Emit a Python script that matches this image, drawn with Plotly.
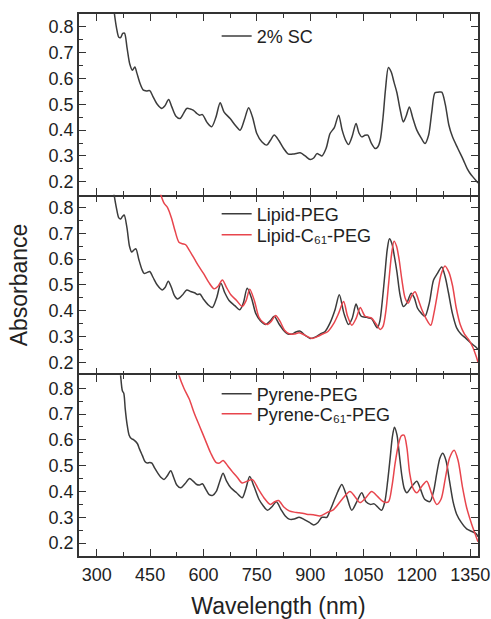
import plotly.graph_objects as go
from plotly.subplots import make_subplots

# ---- data (wavelength nm, absorbance) ----
sc_wl = [345, 355, 362, 367, 373, 378, 385, 393, 400, 407, 413, 422, 431, 440, 449, 458, 470, 483, 492, 502, 511, 522, 534, 544, 553, 563, 572, 581, 589, 597, 610, 623, 635, 647, 658, 675, 690, 703, 715, 727, 738, 750, 764, 778, 788, 799, 812, 825, 839, 855, 872, 886, 900, 910, 919, 926, 933, 945, 956, 968, 980, 990, 1000, 1008, 1018, 1029, 1037, 1045, 1054, 1062, 1072, 1083, 1090, 1097, 1105, 1112, 1120, 1128, 1136, 1144, 1153, 1162, 1170, 1179, 1188, 1200, 1212, 1223, 1233, 1242, 1251, 1260, 1270, 1280, 1290, 1300, 1315, 1331, 1342, 1350, 1360, 1372]
sc_abs = [0.90, 0.80, 0.76, 0.759, 0.775, 0.776, 0.72, 0.655, 0.632, 0.645, 0.62, 0.58, 0.555, 0.552, 0.553, 0.53, 0.50, 0.484, 0.495, 0.519, 0.49, 0.455, 0.445, 0.465, 0.484, 0.482, 0.477, 0.465, 0.458, 0.46, 0.43, 0.413, 0.45, 0.506, 0.47, 0.445, 0.418, 0.40, 0.44, 0.487, 0.45, 0.387, 0.355, 0.342, 0.36, 0.381, 0.36, 0.33, 0.307, 0.308, 0.312, 0.30, 0.286, 0.292, 0.309, 0.305, 0.30, 0.33, 0.387, 0.41, 0.458, 0.40, 0.36, 0.344, 0.375, 0.426, 0.39, 0.374, 0.38, 0.381, 0.35, 0.329, 0.335, 0.361, 0.45, 0.56, 0.643, 0.625, 0.585, 0.545, 0.48, 0.432, 0.455, 0.49, 0.45, 0.40, 0.37, 0.348, 0.38, 0.47, 0.545, 0.547, 0.547, 0.50, 0.42, 0.375, 0.33, 0.284, 0.25, 0.232, 0.215, 0.195]

lp_wl = [345, 355, 362, 367, 372, 377, 385, 392, 398, 404, 410, 418, 427, 433, 441, 449, 458, 470, 484, 492, 501, 510, 518, 527, 540, 553, 564, 575, 583, 590, 600, 612, 625, 637, 649, 660, 672, 688, 702, 712, 723, 735, 747, 760, 775, 787, 799, 812, 825, 836, 850, 860, 872, 886, 900, 914, 928, 942, 956, 970, 982, 995, 1008, 1018, 1029, 1036, 1043, 1051, 1059, 1066, 1073, 1081, 1089, 1096, 1103, 1110, 1117, 1123, 1130, 1137, 1144, 1153, 1162, 1172, 1184, 1193, 1202, 1213, 1223, 1235, 1247, 1258, 1270, 1280, 1289, 1300, 1312, 1324, 1336, 1352, 1368, 1372]
lp_abs = [0.88, 0.80, 0.76, 0.756, 0.765, 0.771, 0.72, 0.65, 0.628, 0.635, 0.64, 0.60, 0.56, 0.545, 0.548, 0.552, 0.53, 0.50, 0.481, 0.49, 0.515, 0.49, 0.46, 0.446, 0.46, 0.481, 0.475, 0.47, 0.463, 0.465, 0.445, 0.425, 0.413, 0.45, 0.507, 0.47, 0.44, 0.42, 0.404, 0.43, 0.487, 0.45, 0.39, 0.362, 0.347, 0.36, 0.379, 0.35, 0.325, 0.311, 0.31, 0.318, 0.321, 0.305, 0.293, 0.298, 0.31, 0.32, 0.353, 0.404, 0.462, 0.39, 0.347, 0.37, 0.426, 0.40, 0.38, 0.376, 0.375, 0.372, 0.37, 0.35, 0.334, 0.36, 0.44, 0.54, 0.64, 0.679, 0.66, 0.61, 0.551, 0.46, 0.417, 0.43, 0.468, 0.45, 0.41, 0.39, 0.379, 0.43, 0.519, 0.545, 0.57, 0.53, 0.47, 0.39, 0.334, 0.31, 0.296, 0.275, 0.257, 0.25]

lc_wl = [470, 480, 490, 499, 510, 520, 531, 541, 550, 560, 575, 588, 600, 615, 630, 641, 653, 665, 677, 693, 709, 720, 730, 743, 756, 768, 780, 791, 803, 815, 828, 841, 855, 869, 886, 905, 920, 935, 950, 966, 980, 994, 1005, 1017, 1029, 1041, 1048, 1054, 1064, 1073, 1085, 1097, 1105, 1113, 1121, 1129, 1136, 1143, 1150, 1158, 1167, 1176, 1186, 1195, 1205, 1214, 1226, 1239, 1248, 1256, 1268, 1279, 1290, 1300, 1311, 1322, 1334, 1345, 1357, 1368, 1372]
lc_abs = [0.90, 0.85, 0.815, 0.80, 0.76, 0.71, 0.666, 0.66, 0.656, 0.635, 0.60, 0.57, 0.545, 0.51, 0.485, 0.495, 0.519, 0.49, 0.462, 0.44, 0.417, 0.44, 0.484, 0.44, 0.375, 0.355, 0.347, 0.36, 0.382, 0.36, 0.325, 0.311, 0.31, 0.315, 0.305, 0.293, 0.30, 0.31, 0.32, 0.35, 0.39, 0.436, 0.38, 0.344, 0.37, 0.413, 0.395, 0.38, 0.375, 0.372, 0.35, 0.328, 0.34, 0.40, 0.51, 0.62, 0.67, 0.65, 0.60, 0.52, 0.45, 0.43, 0.46, 0.474, 0.44, 0.405, 0.37, 0.344, 0.39, 0.45, 0.54, 0.574, 0.55, 0.50, 0.41, 0.347, 0.31, 0.29, 0.26, 0.219, 0.20]

py_wl = [362, 367, 372, 376, 380, 385, 391, 397, 404, 414, 420, 428, 436, 442, 449, 455, 463, 472, 480, 489, 498, 508, 516, 525, 536, 548, 561, 571, 581, 589, 597, 606, 616, 626, 636, 646, 655, 665, 677, 693, 709, 719, 730, 742, 756, 768, 780, 792, 805, 818, 830, 841, 855, 869, 885, 898, 910, 922, 933, 947, 957, 966, 978, 989, 1003, 1017, 1031, 1045, 1057, 1069, 1080, 1090, 1101, 1110, 1118, 1125, 1131, 1137, 1144, 1151, 1158, 1165, 1172, 1186, 1200, 1210, 1222, 1237, 1247, 1256, 1265, 1273, 1282, 1292, 1302, 1312, 1325, 1340, 1355, 1367, 1372]
py_abs = [0.95, 0.85, 0.79, 0.78, 0.72, 0.662, 0.618, 0.605, 0.60, 0.586, 0.565, 0.54, 0.515, 0.51, 0.512, 0.51, 0.49, 0.47, 0.455, 0.446, 0.46, 0.48, 0.455, 0.425, 0.414, 0.43, 0.45, 0.44, 0.427, 0.425, 0.43, 0.41, 0.388, 0.385, 0.40, 0.44, 0.471, 0.44, 0.414, 0.395, 0.376, 0.41, 0.458, 0.42, 0.37, 0.345, 0.327, 0.34, 0.36, 0.33, 0.305, 0.293, 0.293, 0.30, 0.29, 0.28, 0.27, 0.28, 0.30, 0.30, 0.33, 0.36, 0.40, 0.427, 0.38, 0.327, 0.36, 0.395, 0.36, 0.35, 0.352, 0.34, 0.327, 0.36, 0.44, 0.53, 0.61, 0.649, 0.62, 0.54, 0.46, 0.41, 0.395, 0.42, 0.44, 0.41, 0.37, 0.361, 0.40, 0.47, 0.53, 0.548, 0.52, 0.44, 0.36, 0.312, 0.28, 0.255, 0.245, 0.236, 0.225]

pc_wl = [522, 531, 545, 560, 575, 590, 605, 620, 635, 645, 655, 668, 681, 695, 709, 723, 738, 754, 770, 788, 800, 811, 826, 841, 855, 869, 890, 909, 928, 947, 966, 990, 1012, 1026, 1040, 1056, 1073, 1090, 1106, 1120, 1130, 1139, 1148, 1156, 1164, 1172, 1180, 1190, 1200, 1214, 1228, 1242, 1256, 1268, 1280, 1292, 1305, 1316, 1328, 1340, 1354, 1368, 1372]
pc_abs = [0.90, 0.85, 0.80, 0.758, 0.70, 0.65, 0.60, 0.55, 0.513, 0.51, 0.52, 0.50, 0.477, 0.455, 0.433, 0.44, 0.446, 0.41, 0.376, 0.35, 0.36, 0.365, 0.34, 0.325, 0.32, 0.318, 0.312, 0.31, 0.305, 0.318, 0.33, 0.37, 0.40, 0.38, 0.357, 0.375, 0.40, 0.38, 0.36, 0.36, 0.42, 0.51, 0.58, 0.615, 0.618, 0.57, 0.47, 0.41, 0.395, 0.42, 0.44, 0.39, 0.35, 0.37, 0.45, 0.53, 0.56, 0.52, 0.42, 0.338, 0.274, 0.22, 0.205]

x_tick0, x_dtick, x_minor = 300, 150, 75
y_tick0, y_dtick, y_minor = 0.2, 0.1, 0.05

BLACK = "#3c3c3c"
RED = "#e8454d"
FONT = "Liberation Sans, Arial, sans-serif"

fig = make_subplots(rows=3, cols=1, shared_xaxes=True, vertical_spacing=0)

series = [
    (sc_wl, sc_abs, "2% SC", BLACK, 1, "legend"),
    (lp_wl, lp_abs, "Lipid-PEG", BLACK, 2, "legend2"),
    (lc_wl, lc_abs, "Lipid-C₆₁-PEG", RED, 2, "legend3"),
    (py_wl, py_abs, "Pyrene-PEG", BLACK, 3, "legend4"),
    (pc_wl, pc_abs, "Pyrene-C₆₁-PEG", RED, 3, "legend5"),
]
for x, y, name, col, row, leg in series:
    fig.add_trace(go.Scatter(x=x, y=y, name=name, mode="lines",
                             line=dict(color=col, width=1.5, shape="spline", smoothing=0.8),
                             legend=leg), row=row, col=1)

axis_common = dict(linecolor="#333", linewidth=1.5,
                   ticks="inside", ticklen=7, tickwidth=1.3, tickcolor="#333",
                   showgrid=False, zeroline=False, automargin=False,
                   tickfont=dict(family=FONT, size=18, color="#222"))
for r in (1, 2, 3):
    # middle panel draws no horizontal frame lines (neighbours supply them) to avoid doubled borders
    fig.update_xaxes(range=[250, 1372], tickmode="linear", tick0=x_tick0, dtick=x_dtick,
                     showline=(r != 2), mirror="ticks",
                     minor=dict(dtick=x_minor, tick0=x_tick0, ticks="inside", ticklen=4,
                                tickcolor="#333", tickwidth=1.2, showgrid=False),
                     showticklabels=(r == 3), row=r, col=1, **axis_common)
    fig.update_yaxes(range=[0.15, 0.85], tickmode="linear", tick0=y_tick0, dtick=y_dtick, tickformat=".1f",
                     showline=True, mirror="ticks",
                     minor=dict(dtick=y_minor, tick0=y_tick0, ticks="inside", ticklen=4,
                                tickcolor="#333", tickwidth=1.2, showgrid=False),
                     row=r, col=1, **axis_common)

fig.update_xaxes(ticklabelstandoff=2, row=3, col=1)
fig.update_xaxes(title=dict(text="Wavelength (nm)", font=dict(family=FONT, size=23, color="#222"), standoff=18), row=3, col=1)
fig.update_yaxes(title=dict(text="Absorbance", font=dict(family=FONT, size=23, color="#222"), standoff=15), row=2, col=1)

leg_common = dict(bgcolor="rgba(0,0,0,0)", font=dict(family=FONT, size=18, color="#222"),
                  xanchor="left", yanchor="middle", x=0.345)
fig.update_layout(
    width=491, height=619,
    margin=dict(l=79, r=13, t=14, b=63, autoexpand=False),
    paper_bgcolor="white", plot_bgcolor="white",
    showlegend=True,
    legend=dict(y=0.959, **leg_common),
    legend2=dict(y=0.631, **leg_common),
    legend3=dict(y=0.592, **leg_common),
    legend4=dict(y=0.299, **leg_common),
    legend5=dict(y=0.262, **leg_common),
)

fig.write_html("out.html")
